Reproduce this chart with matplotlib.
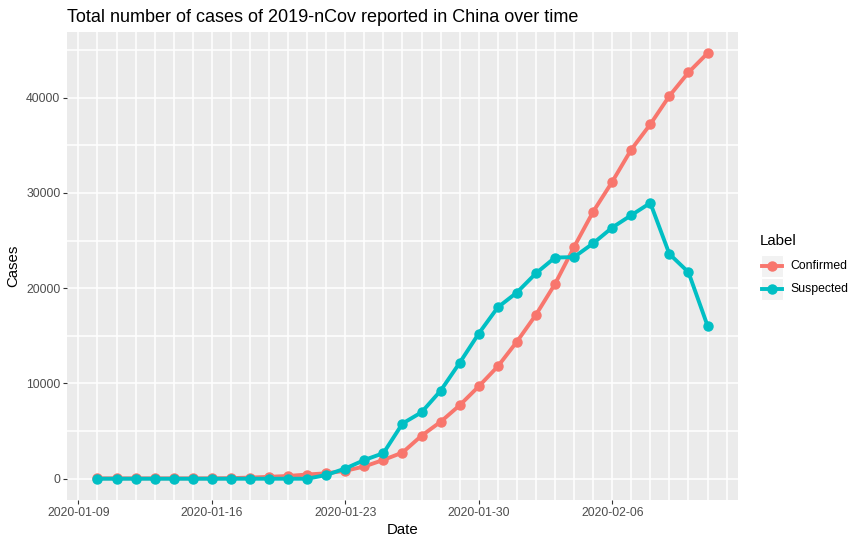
import numpy as np
import pandas as pd
import matplotlib
matplotlib.use("Agg")
import matplotlib.pyplot as plt
import matplotlib.dates as mdates
from matplotlib.lines import Line2D
from matplotlib.patches import Rectangle

plt.rcParams["font.family"] = ["Liberation Sans", "DejaVu Sans"]

# Daily totals reported by China NHC
dates = pd.date_range("2020-01-10", "2020-02-11", freq="D")
confirmed = [41, 41, 41, 41, 41, 41, 45, 62, 121, 198, 291, 440, 571, 830,
             1287, 1975, 2744, 4515, 5974, 7711, 9692, 11791, 14380, 17205,
             20438, 24324, 28018, 31161, 34546, 37198, 40171, 42638, 44653]
suspected = [0, 0, 0, 0, 0, 0, 0, 0, 0, 0, 0, 0, 393, 1072,
             1965, 2684, 5794, 6973, 9239, 12167, 15238, 17988, 19544, 21558,
             23214, 23260, 24702, 26359, 27657, 28942, 23589, 21675, 16067]
labels = ["Confirmed", "Suspected"]
colors = ["#F8766D", "#00BFC4"]
tick_dates = pd.to_datetime(["2020-01-09", "2020-01-16", "2020-01-23",
                             "2020-01-30", "2020-02-06"])

W, H = 864, 545
fig = plt.figure(figsize=(W / 100, H / 100), dpi=100)
# panel in pixels: left 67, right 738, top 32, bottom 500
ax = fig.add_axes([67 / W, 1 - 500 / H, (738 - 67) / W, (500 - 32) / H])
ax.set_facecolor("#EBEBEB")
for s in ax.spines.values():
    s.set_visible(False)

# ggplot-style 5% expansion
x0, x1 = mdates.date2num(dates[0]), mdates.date2num(dates[-1])
pad = (x1 - x0) * 0.05
ax.set_xlim(x0 - pad, x1 + pad)
ymax = max(confirmed)
ax.set_ylim(-ymax * 0.05, ymax * 1.05)

# grid lines: every day vertically, every 5000 horizontally
for d in pd.date_range("2020-01-09", "2020-02-12", freq="D"):
    ax.axvline(mdates.date2num(d), color="white", lw=1.1, zorder=0)
for yv in np.arange(0, 50000, 5000):
    ax.axhline(yv, color="white", lw=1.1, zorder=0)

for vals, lab, col in zip([confirmed, suspected], labels, colors):
    ax.plot(dates, vals, color=col, lw=2.8, marker="o", ms=6.5, zorder=3,
            solid_capstyle="butt")

ax.set_xticks(mdates.date2num(tick_dates))
ax.set_xticklabels([d.strftime("%Y-%m-%d") for d in tick_dates])
ax.set_yticks([0, 10000, 20000, 30000, 40000])
ax.set_yticklabels(["0", "10000", "20000", "30000", "40000"])
ax.tick_params(length=2.7, width=0.8, color="#333333", labelcolor="#4D4D4D",
               labelsize=8.8, pad=2)

ax.set_xlabel("Date", fontsize=10.8, labelpad=3)
ax.set_ylabel("Cases", fontsize=10.8, labelpad=4)
fig.text(67 / W, 1 - 17 / H, "Total number of cases of 2019-nCov reported in China over time",
         fontsize=13, ha="left", va="center")

# legend drawn like ggplot's guide
fig.text(760 / W, 1 - 241 / H, "Label", fontsize=10.8, ha="left", va="center")
for i, (lab, col) in enumerate(zip(labels, colors)):
    ytop = 255 + i * 23
    fig.patches.append(Rectangle((761 / W, 1 - (ytop + 22) / H), 22 / W, 22 / H,
                                 transform=fig.transFigure, facecolor="#F2F2F2",
                                 edgecolor="white", lw=0.8))
    yc = 1 - (ytop + 11) / H
    fig.lines.append(Line2D([762 / W, 782 / W], [yc, yc], transform=fig.transFigure,
                            color=col, lw=2.8, marker=None))
    fig.lines.append(Line2D([772 / W], [yc], transform=fig.transFigure,
                            color=col, marker="o", ms=6.5, lw=0))
    fig.text(790 / W, yc, lab, fontsize=8.8, ha="left", va="center")

fig.savefig("out.png", dpi=100)
